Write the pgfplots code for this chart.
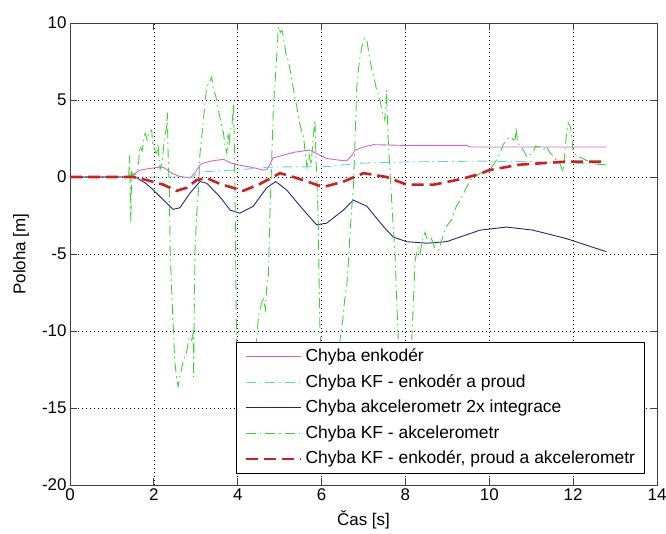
\documentclass[border=0pt]{standalone}
\usepackage{fontspec}
\setmainfont{Liberation Sans}
\setsansfont{Liberation Sans}
\usepackage{pgfplots}
\pgfplotsset{compat=1.18}
\definecolor{cmag}{RGB}{210,100,210}
\definecolor{ccyan}{RGB}{90,215,225}
\definecolor{cblue}{RGB}{35,35,140}
\definecolor{cgreen}{RGB}{60,210,50}
\definecolor{cred}{RGB}{210,30,30}
\newcommand{\fs}{\fontsize{17}{20.4}\selectfont}
\newcommand{\fl}{\fontsize{17.5}{21}\selectfont}
\begin{document}
\begin{tikzpicture}
\path[use as bounding box] (-70bp,-49bp) rectangle (596bp,485bp);
\begin{axis}[
  at={(0,0)}, anchor=south west,
  scale only axis, width=587bp, height=462bp,
  xmin=0, xmax=14, ymin=-20, ymax=10,
  xtick={0,2,4,6,8,10,12,14}, xticklabels={0,2,4,6,8,10,12,14},
  ytick={-20,-15,-10,-5,0,5,10}, yticklabels={-20,-15,-10,-5,0,5,10},
  grid=major, major grid style={black, line width=0.6bp, dash pattern=on 1bp off 3bp},
  tick align=inside, major tick length=7bp,
  axis line style={draw=black!75, line width=0.9bp},
  tick style={black!75, line width=0.8bp},
  ticklabel style={font=\fs},
  xlabel={Čas [s]}, ylabel={Poloha [m]},
  label style={font=\fs},
  xlabel style={at={(axis description cs:0.5,-0.0758)}, anchor=center},
  ylabel style={at={(axis description cs:-0.0835,0.5)}, anchor=center},
  legend style={at={(0.9796,0.0238)}, anchor=south east, font=\fl, draw=black, fill=white,
     line width=0.9bp, inner xsep=8bp, inner ysep=5bp, row sep=6bp, column sep=2bp,
     nodes={inner sep=1.5bp, text height=13bp, text depth=3.5bp}},
  legend image code/.code={\draw[#1] (0bp,0bp) -- (55bp,0bp);},
  legend cell align=left,
]
\addplot[cmag, line width=0.9bp] coordinates {
(0,0) (1.40,0.02) (1.5,0.15) (1.67,0.45) (1.9,0.55) (2.15,0.65) (2.25,0.6) (2.42,0.25) (2.6,0.05) (2.86,-0.07) (2.98,0.25) (3.1,0.8) (3.18,0.9) (3.4,1.05) (3.66,1.15) (3.8,0.95) (3.97,0.8) (4.3,0.65) (4.61,0.45) (4.7,0.5) (4.85,1.25) (5.0,1.35) (5.33,1.6) (5.72,1.75) (5.9,1.5) (6.12,1.2) (6.4,1.1) (6.6,1.05) (6.72,1.4) (6.8,1.75) (7.0,1.95) (7.24,2.1) (8.0,2.05) (9.0,2.05) (9.46,2.05) (9.55,1.95) (12.79,1.95)
};
\addlegendentry{Chyba enkodér}
\addplot[ccyan, line width=0.9bp, dash pattern=on 10bp off 4bp on 1.5bp off 4bp] coordinates {
(0,0) (2.39,0) (2.94,0.0) (3.04,0.3) (3.5,0.4) (3.90,0.45) (4.85,0.65) (6.12,0.67) (6.92,0.9) (8.03,0.98) (9.78,1.03) (11.0,1.0) (12.0,0.9) (12.79,0.8)
};
\addlegendentry{Chyba KF - enkodér a proud}
\addplot[cblue, line width=0.9bp] coordinates {
(0,0) (1.4,0) (1.59,-0.05) (1.8,-0.4) (1.99,-0.85) (2.23,-1.5) (2.46,-2.1) (2.62,-2.0) (2.86,-1.05) (3.10,-0.3) (3.26,-0.4) (3.58,-1.3) (3.82,-2.15) (4.05,-2.35) (4.37,-1.9) (4.69,-0.7) (4.91,-0.3) (5.17,-0.85) (5.57,-2.15) (5.88,-3.1) (6.12,-3.0) (6.52,-2.15) (6.76,-1.5) (7.08,-1.9) (7.47,-3.2) (7.71,-3.9) (8.03,-4.2) (8.51,-4.3) (8.98,-4.2) (9.46,-3.75) (9.78,-3.45) (10.1,-3.35) (10.41,-3.25) (11.04,-3.45) (11.84,-4.0) (12.79,-4.85)
};
\addlegendentry{Chyba akcelerometr 2x integrace}
\addplot[cgreen, line width=0.9bp, dash pattern=on 10bp off 4bp on 1.5bp off 4bp] coordinates {
(0,0) (0.3,0.03) (0.6,-0.02) (0.9,0.03) (1.2,-0.02) (1.40,0.05) (1.42,1.4) (1.44,-1.0) (1.45,-3.0) (1.47,0.3) (1.52,0.1) (1.58,0.2) (1.63,0.6) (1.65,1.5) (1.67,2.0) (1.72,1.7) (1.76,2.4) (1.79,2.85) (1.84,2.4) (1.88,2.9) (1.95,3.05) (1.97,2.2) (1.99,2.0) (2.04,1.6) (2.07,1.55) (2.1,2.2) (2.12,1.2) (2.15,0.5) (2.2,1.0) (2.25,2.5) (2.3,3.2) (2.32,4.2) (2.34,1.5) (2.37,-1.0) (2.39,-4.9) (2.45,-9.0) (2.5,-12.0) (2.55,-13.2) (2.58,-13.6) (2.62,-13.0) (2.68,-12.2) (2.74,-11.6) (2.78,-11.4) (2.84,-10.4) (2.9,-10.6) (2.94,-10.1) (2.95,-13.0) (2.96,-9.5) (2.98,-4.9) (3.02,-2.5) (3.06,-1.0) (3.10,1.55) (3.14,2.5) (3.18,3.7) (3.22,4.8) (3.26,5.85) (3.32,6.1) (3.38,6.5) (3.42,5.6) (3.46,5.4) (3.50,5.0) (3.55,4.2) (3.6,3.5) (3.66,2.85) (3.7,2.0) (3.74,1.55) (3.77,2.8) (3.8,2.0) (3.82,3.05) (3.86,3.3) (3.90,4.7) (3.92,2.0) (3.94,-2.0) (3.96,-8.0) (3.98,-11.5) (4.05,-12.8) (4.2,-13.2) (4.35,-12.0) (4.45,-10.6) (4.5,-9.0) (4.55,-8.4) (4.61,-7.8) (4.66,-8.6) (4.7,-6.8) (4.73,-6.5) (4.77,-2.3) (4.81,1.0) (4.85,4.5) (4.9,6.5) (4.94,8.2) (4.97,9.76) (5.02,9.4) (5.06,9.5) (5.09,9.1) (5.15,8.0) (5.2,7.6) (5.25,6.95) (5.3,6.2) (5.36,5.2) (5.41,4.57) (5.47,3.6) (5.52,3.0) (5.57,2.6) (5.61,1.6) (5.65,0.67) (5.7,1.5) (5.75,0.8) (5.8,2.5) (5.84,3.7) (5.87,1.0) (5.9,-1.0) (5.92,-2.8) (5.96,-9.9) (6.0,-11.5) (6.1,-12.8) (6.25,-13.0) (6.38,-11.8) (6.44,-10.6) (6.5,-9.4) (6.55,-8.0) (6.6,-7.1) (6.64,-5.5) (6.68,-3.6) (6.72,-2.0) (6.76,-0.6) (6.8,2.5) (6.84,5.86) (6.9,7.5) (6.96,8.46) (7.02,9.0) (7.08,8.9) (7.14,7.8) (7.2,6.95) (7.25,6.5) (7.3,5.8) (7.35,5.4) (7.39,5.0) (7.45,4.2) (7.51,3.7) (7.53,4.6) (7.55,5.65) (7.57,4.0) (7.59,2.4) (7.65,-0.5) (7.7,-2.8) (7.75,-4.9) (7.8,-8.5) (7.83,-10.6) (7.9,-12.0) (8.05,-11.8) (8.15,-10.6) (8.2,-7.5) (8.23,-5.4) (8.3,-4.6) (8.35,-4.95) (8.41,-4.0) (8.47,-3.6) (8.55,-4.3) (8.62,-4.0) (8.7,-4.6) (8.8,-4.74) (8.9,-3.8) (8.98,-3.2) (9.1,-2.8) (9.2,-2.0) (9.3,-1.5) (9.4,-1.0) (9.54,-0.2) (9.65,0.0) (9.78,0.25) (9.9,0.3) (9.97,0.33) (10.05,0.6) (10.17,1.1) (10.25,1.5) (10.33,2.1) (10.41,2.4) (10.5,2.6) (10.58,2.4) (10.62,2.5) (10.64,3.25) (10.66,2.6) (10.68,2.2) (10.8,1.8) (10.9,1.3) (10.96,1.43) (11.05,1.6) (11.1,2.0) (11.2,1.95) (11.3,1.8) (11.36,2.0) (11.44,1.6) (11.55,1.3) (11.62,1.0) (11.68,0.9) (11.72,0.6) (11.76,0.33) (11.8,1.5) (11.84,2.8) (11.88,3.5) (11.93,3.3) (11.96,2.85) (11.98,2.2) (12.0,1.6) (12.08,1.4) (12.15,1.3) (12.3,1.1) (12.47,0.9) (12.6,0.85) (12.7,0.8) (12.79,0.78)
};
\addlegendentry{Chyba KF - akcelerometr}
\addplot[cred, line width=2.6bp, dash pattern=on 12bp off 6bp] coordinates {
(0,0) (1.5,0) (1.83,-0.2) (2.23,-0.5) (2.54,-0.9) (2.78,-0.7) (3.02,-0.2) (3.26,-0.07) (3.58,-0.45) (4.13,-0.9) (4.53,-0.45) (5.01,0.25) (5.41,-0.07) (6.04,-0.65) (6.52,-0.3) (7.0,0.25) (7.55,0) (8.03,-0.5) (8.67,-0.5) (9.30,-0.15) (9.78,0.2) (10.0,0.45) (10.72,0.8) (11.84,1.0) (12.79,1.0)
};
\addlegendentry{Chyba KF - enkodér, proud a akcelerometr}
\end{axis}
\end{tikzpicture}
\end{document}
